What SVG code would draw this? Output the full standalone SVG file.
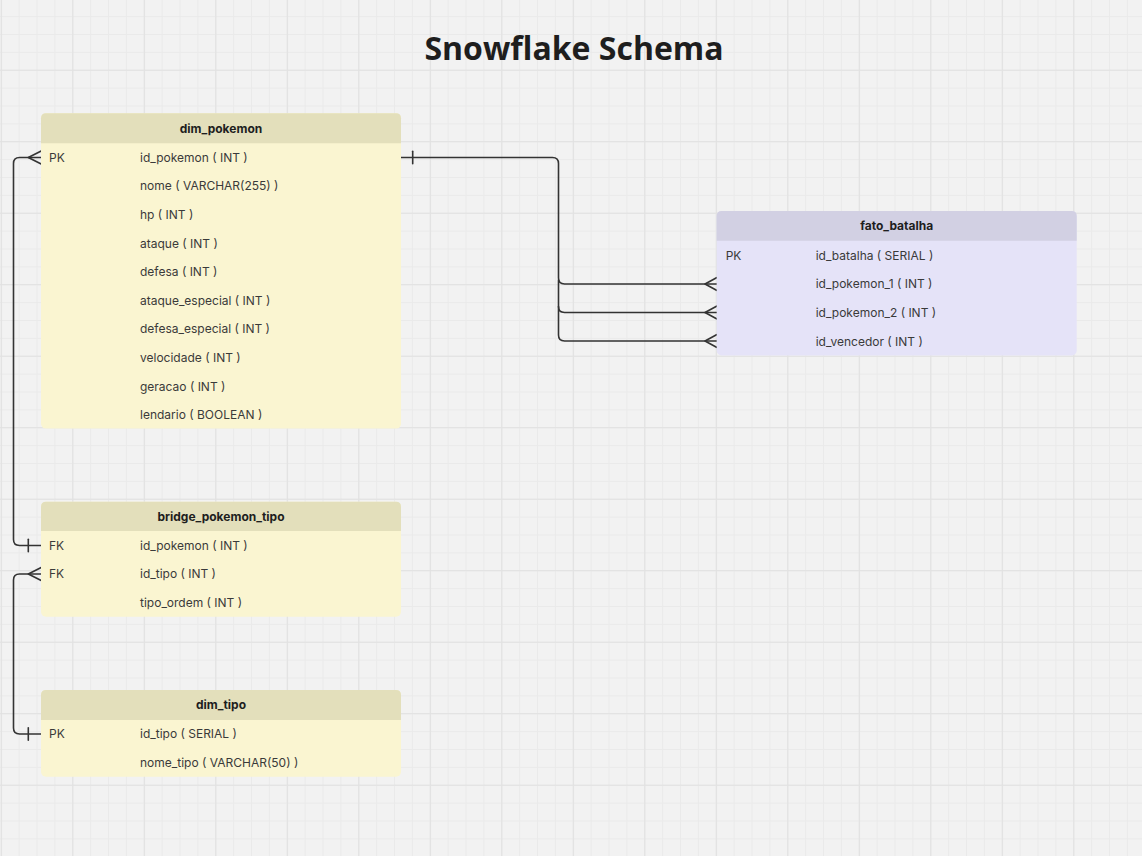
<svg xmlns="http://www.w3.org/2000/svg" width="1142" height="856" viewBox="0 0 1142 856">
<defs>
<pattern id="minor" x="0.8" y="-1.8" width="17.875" height="17.875" patternUnits="userSpaceOnUse">
<path d="M0 0.5H17.875M0.5 0V17.875" fill="none" stroke="#eaeaea" stroke-width="1"/>
</pattern>
<pattern id="major" x="0.8" y="-1.8" width="71.5" height="71.5" patternUnits="userSpaceOnUse">
<path d="M0 0.5H71.5M0.5 0V71.5" fill="none" stroke="#e1e1e1" stroke-width="1.2"/>
</pattern>
</defs>
<style>
.t{font-family:Inter,"Liberation Sans",sans-serif;font-size:12px;fill:#3a3a3a;}
.h{font-family:Inter,"Liberation Sans",sans-serif;font-size:12px;font-weight:bold;fill:#1e1e1e;text-anchor:middle;}
.title{font-family:"Open Sans","Noto Sans",sans-serif;font-size:32px;font-weight:bold;fill:#1e1e1e;text-anchor:middle;}
.yb{fill:#faf5d1;}
.yh{fill:#e3dfbb;}
.pb{fill:#e5e3f8;}
.ph{fill:#d2d0e3;}
.c{fill:none;stroke:#333;stroke-width:1.6;stroke-linecap:round;stroke-linejoin:round;}
</style>
<rect width="1142" height="856" fill="#f2f2f2"/>
<rect width="1142" height="856" fill="url(#minor)"/>
<rect width="1142" height="856" fill="url(#major)"/>

<text class="title" x="574" y="60">Snowflake Schema</text>

<g id="connectors">
<path class="c" d="M401 157.5H552.5Q558.5 157.5 558.5 163.5V278Q558.5 284 564.5 284H716.5"/>
<path class="c" d="M558.5 306.5Q558.5 312.5 564.5 312.5H716.5"/>
<path class="c" d="M558.5 280V335Q558.5 341 564.5 341H716.5"/>
<path class="c" d="M412.7 151.3V163.7"/>
<path class="c" d="M716.5 277.7L705 284L716.5 290.3"/>
<path class="c" d="M716.5 306.2L705 312.5L716.5 318.8"/>
<path class="c" d="M716.5 334.7L705 341L716.5 347.3"/>
<path class="c" d="M41 157.5H19.5Q13.5 157.5 13.5 163.5V539.5Q13.5 545.5 19.5 545.5H41"/>
<path class="c" d="M40.7 151.2L28.3 157.5L40.7 163.8"/>
<path class="c" d="M28.3 539.2V551.8"/>
<path class="c" d="M41 574H19.5Q13.5 574 13.5 580V728Q13.5 734 19.5 734H41"/>
<path class="c" d="M40.7 567.7L28.3 574L40.7 580.3"/>
<path class="c" d="M28.3 727.7V740.3"/>
</g>

<g id="dim_pokemon">
<rect class="yb" x="41" y="113.3" width="360" height="315.3" rx="5"/>
<path class="yh" d="M46 113.3H396Q401 113.3 401 118.3V143.3H41V118.3Q41 113.3 46 113.3Z"/>
<text class="h" x="221" y="132.5">dim_pokemon</text>
<text class="t" x="49" y="161.8">PK</text>
<text class="t" x="140" y="161.8">id_pokemon ( INT )</text>
<text class="t" x="140" y="190.4">nome ( VARCHAR(255) )</text>
<text class="t" x="140" y="219">hp ( INT )</text>
<text class="t" x="140" y="247.6">ataque ( INT )</text>
<text class="t" x="140" y="276.2">defesa ( INT )</text>
<text class="t" x="140" y="304.8">ataque_especial ( INT )</text>
<text class="t" x="140" y="333.4">defesa_especial ( INT )</text>
<text class="t" x="140" y="362">velocidade ( INT )</text>
<text class="t" x="140" y="390.6">geracao ( INT )</text>
<text class="t" x="140" y="419.2">lendario ( BOOLEAN )</text>
</g>

<g id="fato_batalha">
<rect class="pb" x="716.7" y="211" width="360" height="144.4" rx="5"/>
<path class="ph" d="M721.7 211H1071.7Q1076.7 211 1076.7 216V240.7H716.7V216Q716.7 211 721.7 211Z"/>
<text class="h" x="896.7" y="230.3">fato_batalha</text>
<text class="t" x="725.7" y="259.8">PK</text>
<text class="t" x="815.7" y="259.8">id_batalha ( SERIAL )</text>
<text class="t" x="815.7" y="288.4">id_pokemon_1 ( INT )</text>
<text class="t" x="815.7" y="317">id_pokemon_2 ( INT )</text>
<text class="t" x="815.7" y="345.6">id_vencedor ( INT )</text>
</g>

<g id="bridge_pokemon_tipo">
<rect class="yb" x="41" y="501.7" width="360" height="115" rx="5"/>
<path class="yh" d="M46 501.7H396Q401 501.7 401 506.7V531H41V506.7Q41 501.7 46 501.7Z"/>
<text class="h" x="221" y="520.6">bridge_pokemon_tipo</text>
<text class="t" x="49" y="549.8">FK</text>
<text class="t" x="140" y="549.8">id_pokemon ( INT )</text>
<text class="t" x="49" y="578.4">FK</text>
<text class="t" x="140" y="578.4">id_tipo ( INT )</text>
<text class="t" x="140" y="607">tipo_ordem ( INT )</text>
</g>

<g id="dim_tipo">
<rect class="yb" x="41" y="690" width="360" height="86.8" rx="5"/>
<path class="yh" d="M46 690H396Q401 690 401 695V720H41V695Q41 690 46 690Z"/>
<text class="h" x="221" y="709.3">dim_tipo</text>
<text class="t" x="49" y="738.3">PK</text>
<text class="t" x="140" y="738.3">id_tipo ( SERIAL )</text>
<text class="t" x="140" y="766.9">nome_tipo ( VARCHAR(50) )</text>
</g>
</svg>
